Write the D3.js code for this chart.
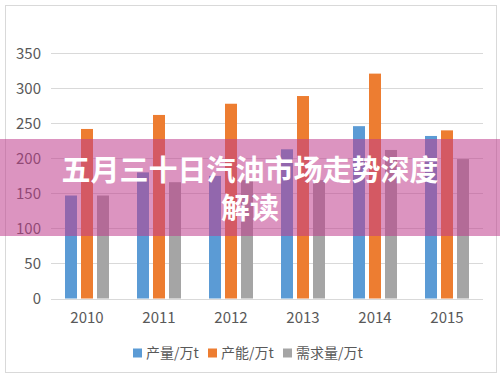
<!DOCTYPE html>
<html>
<head>
  <meta charset='utf-8'>
  <style>
  body { margin: 0; background: #fff; }
  text { font-family: 'Noto Sans CJK SC', 'Open Sans', sans-serif; }
  .grid line { stroke: #d9d9d9; stroke-width: 1; }
  .tick-label { fill: #595959; font-size: 15px; }
  .legend-label { fill: #595959; font-size: 14px; }
  </style>
</head>
<body>
<script src='https://d3js.org/d3.v7.min.js'></script>
<script>

var years = ['2010', '2011', '2012', '2013', '2014', '2015'];
var seriesNames = ['产量/万t', '产能/万t', '需求量/万t'];
var output = [147, 180, 175, 213, 246, 232];
var capacity = [242, 262, 278, 289, 321, 240];
var demand = [147, 166, 169, 169, 212, 199];
var yTicks = [0, 50, 100, 150, 200, 250, 300, 350];
var titleLines = ['五月三十日汽油市场走势深度', '解读'];

var colors = ['#5b9bd5', '#ed7d31', '#a5a5a5'];
var values = [output, capacity, demand];

var W = 500, H = 377;
var svg = d3.select('body').append('svg')
    .attr('width', W).attr('height', H);

svg.append('rect')
    .attr('x', 5.5).attr('y', 5.5)
    .attr('width', 491).attr('height', 367)
    .attr('fill', '#fff').attr('stroke', '#d9d9d9');

var plotLeft = 51, plotRight = 483, plotTop = 53.3, plotBottom = 298.5;

var x0 = d3.scaleBand().domain(years).range([plotLeft, plotRight])
    .paddingInner(28 / 72).paddingOuter(14 / 72);
var x1 = d3.scaleBand().domain(d3.range(3)).range([0, x0.bandwidth()])
    .paddingInner(0.25);
var y = d3.scaleLinear().domain([0, 350]).range([plotBottom, plotTop]);

svg.append('g').attr('class', 'grid')
  .selectAll('line').data(yTicks).enter().append('line')
    .attr('x1', plotLeft).attr('x2', plotRight)
    .attr('y1', function(d) { return Math.round(y(d)) + 0.5; })
    .attr('y2', function(d) { return Math.round(y(d)) + 0.5; });

svg.append('g').selectAll('text').data(yTicks).enter().append('text')
    .attr('class', 'tick-label')
    .attr('x', 41).attr('y', function(d) { return y(d); })
    .attr('dy', '0.35em')
    .attr('text-anchor', 'end')
    .text(function(d) { return d; });

svg.append('g').selectAll('text').data(years).enter().append('text')
    .attr('class', 'tick-label')
    .attr('x', function(d) { return x0(d) + x0.bandwidth() / 2; })
    .attr('y', 318).attr('dy', '0.35em')
    .attr('text-anchor', 'middle')
    .text(function(d) { return d; });

var groups = svg.append('g').selectAll('g').data(years).enter().append('g')
    .attr('transform', function(d) { return 'translate(' + x0(d) + ',0)'; });

groups.selectAll('rect')
    .data(function(d, i) { return values.map(function(v, s) { return {s: s, v: v[i]}; }); })
  .enter().append('rect')
    .attr('x', function(d) { return x1(d.s); })
    .attr('width', x1.bandwidth())
    .attr('y', function(d) { return y(d.v); })
    .attr('height', function(d) { return y(0) - y(d.v); })
    .attr('fill', function(d) { return colors[d.s]; });

// legend
var legendX = [133, 208, 283];
var legend = svg.append('g').selectAll('g').data(seriesNames).enter().append('g')
    .attr('transform', function(d, i) { return 'translate(' + legendX[i] + ',353)'; });
legend.append('rect')
    .attr('x', 0).attr('y', -4.5).attr('width', 9).attr('height', 9)
    .attr('fill', function(d, i) { return colors[i]; });
legend.append('text')
    .attr('class', 'legend-label')
    .attr('x', 13).attr('dy', '0.35em')
    .text(function(d) { return d; });

// title banner
svg.append('rect')
    .attr('x', 0).attr('y', 139).attr('width', W).attr('height', 97)
    .attr('fill', 'rgba(191,60,140,0.55)');

svg.append('g').selectAll('text').data(titleLines).enter().append('text')
    .attr('x', 250)
    .attr('y', function(d, i) { return 171 + i * 38; })
    .attr('dy', '0.36em')
    .attr('text-anchor', 'middle')
    .attr('fill', '#fff')
    .style('font-size', '29px')
    .style('font-weight', 700)
    .text(function(d) { return d; });

</script>
</body>
</html>
